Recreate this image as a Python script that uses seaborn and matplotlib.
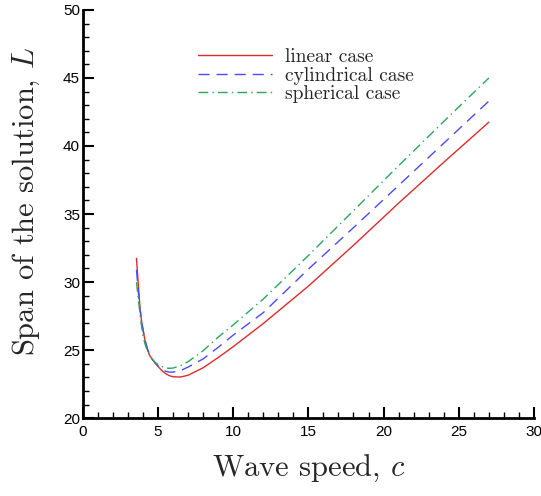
import numpy as np
import pandas as pd
import matplotlib
matplotlib.use("Agg")
import matplotlib.pyplot as plt
import seaborn as sns
from matplotlib.ticker import MultipleLocator

sns.set_theme(style="white")
plt.rcParams['font.family'] = ['Liberation Sans', 'DejaVu Sans']
plt.rcParams['mathtext.fontset'] = 'cm'

c_vals = [3.57, 3.7, 3.8, 3.9, 4.0, 4.15, 4.3, 4.45, 4.6, 4.8, 5.0, 5.25, 5.5, 5.75, 6.0, 6.5, 7.0, 8.0, 9.0, 10.0, 12.0, 15.0, 18.0, 21.0, 24.0, 27.0]
linear = [31.75, 29.7, 28.15, 27.2, 26.5, 25.65, 25.05, 24.6, 24.35, 24.05, 23.8, 23.5, 23.28, 23.12, 23.04, 23.02, 23.15, 23.7, 24.45, 25.25, 26.95, 29.7, 32.7, 35.8, 38.8, 41.75]
cylindrical = [30.9, 29.2, 28.0, 27.2, 26.55, 25.7, 25.1, 24.65, 24.35, 24.1, 23.85, 23.6, 23.45, 23.38, 23.38, 23.5, 23.75, 24.35, 25.2, 26.1, 27.75, 30.95, 34.0, 37.1, 40.2, 43.3]
spherical = [30.0, 28.7, 27.7, 26.8, 26.1, 25.4, 24.95, 24.6, 24.35, 24.1, 23.95, 23.8, 23.7, 23.66, 23.68, 23.85, 24.15, 24.95, 25.95, 26.85, 28.75, 31.95, 35.25, 38.55, 41.8, 45.0]

labels = ["linear case", "cylindrical case", "spherical case"]
colors = ["#e02a2a", "#4a4aff", "#2aa65a"]

fig = plt.figure(figsize=(5.41, 4.96), dpi=100)
ax = fig.add_axes([0.153, 0.157, 0.834, 0.823])

sns.lineplot(x=c_vals, y=linear, ax=ax, color=colors[0], lw=1.0, label=labels[0])
sns.lineplot(x=c_vals, y=cylindrical, ax=ax, color=colors[1], lw=1.0, label=labels[1])
sns.lineplot(x=c_vals, y=spherical, ax=ax, color=colors[2], lw=1.0, label=labels[2])
lines = ax.get_lines()
lines[1].set_dashes([8, 5])
lines[2].set_dashes([7, 3, 1, 3])

ax.set_xlim(0, 30)
ax.set_ylim(20, 50)
ax.xaxis.set_major_locator(MultipleLocator(5))
ax.xaxis.set_minor_locator(MultipleLocator(1))
ax.yaxis.set_major_locator(MultipleLocator(5))
ax.yaxis.set_minor_locator(MultipleLocator(1))
ax.tick_params(axis='x', which='both', bottom=True, top=False)
ax.tick_params(axis='y', which='both', left=True, right=False)
ax.tick_params(which='major', direction='in', length=8, width=1.5, labelsize=11, pad=2, colors='black')
ax.tick_params(which='minor', direction='in', length=4, width=1.0, colors='black')
ax.tick_params(axis='x', which='major', pad=5)
for s in ['top', 'right']:
    ax.spines[s].set_visible(False)
for s in ['left', 'bottom']:
    ax.spines[s].set_color('black')
    ax.spines[s].set_linewidth(2)

ax.set_xlabel("Wave speed, $c$", fontname='cmr10', fontsize=22, labelpad=10)
ax.set_ylabel("Span of the solution, $L$", fontname='cmr10', fontsize=22)
ax.yaxis.set_label_coords(-0.091, 0.53)

leg = ax.legend(loc='upper left', bbox_to_anchor=(0.238, 0.925), frameon=False,
                handlelength=3.8, prop={'family': 'cmr10', 'size': 14},
                labelspacing=0.02, handletextpad=0.7, borderaxespad=0)

fig.savefig("out.png", dpi=100)
